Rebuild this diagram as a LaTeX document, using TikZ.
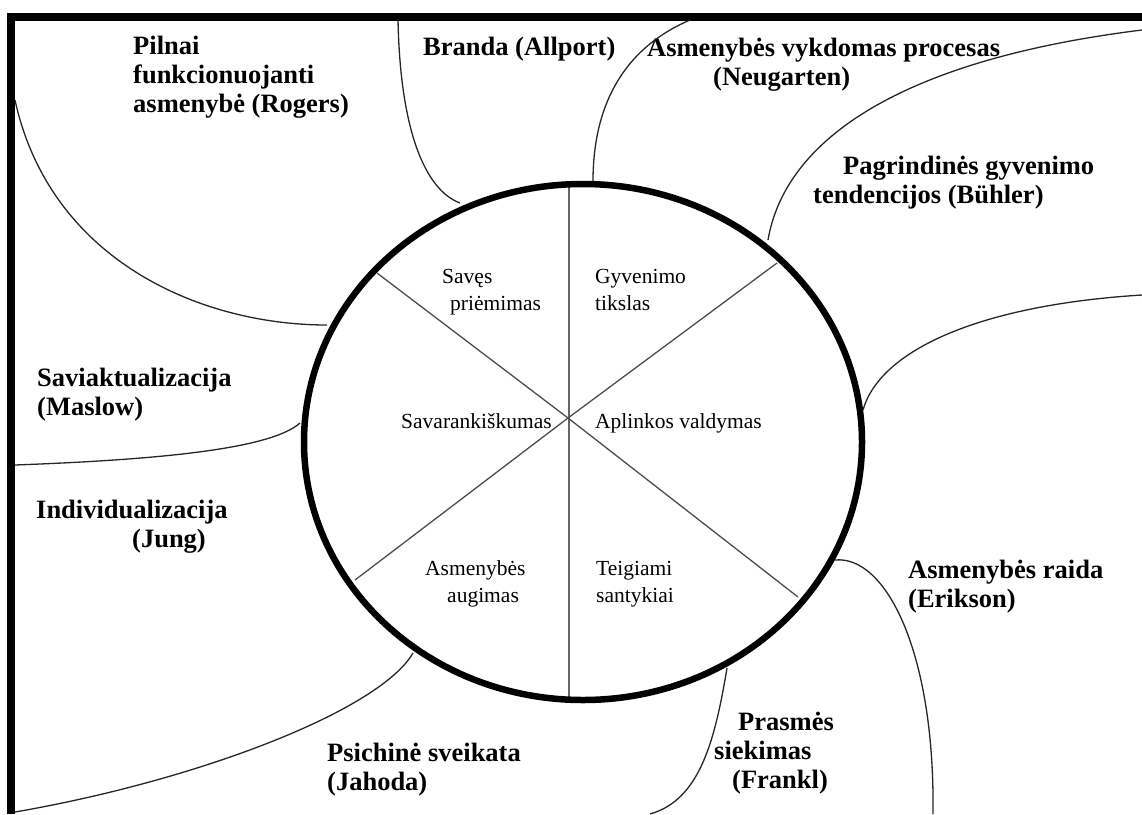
\documentclass[tikz,border=0pt]{standalone}
\usepackage{fontspec}
\setmainfont{Liberation Serif}
\usetikzlibrary{shapes.geometric}
\begin{document}
\begin{tikzpicture}[x=1pt,y=-1pt,
  outtext/.style={font=\bfseries\fontsize{26.5}{29}\selectfont, inner sep=0pt, anchor=base west, align=left},
  ringtext/.style={font=\fontsize{21.5}{27}\selectfont, inner sep=0pt, anchor=base west, align=left},
  link/.style={line width=1.3pt, black!85},
  spoke/.style={line width=1.3pt, black!70},
  axis/.style={line width=2pt, black!60},
  frameline/.style={line width=8pt, line join=miter},
  ring/.style={draw, ellipse, line width=6.5pt, inner sep=0pt, minimum width=558pt, minimum height=516pt}
  ]
\useasboundingbox (0,0) rectangle (1142,814);

% outer frame (top and left edges)
\draw[frameline] (11,814) -- (11,17) -- (1142,17);

% wheel: hub, spokes and rim
\coordinate (hub) at (568,418);
\coordinate (axtop) at (569,183);
\coordinate (axbot) at (569,698);
\coordinate (sUL) at (377,273);
\coordinate (sUR) at (777,263);
\coordinate (sLL) at (355,580);
\coordinate (sLR) at (798,597);
\draw[axis] (axtop) -- (axbot);
\draw[spoke] (hub) -- (sUL);
\draw[spoke] (hub) -- (sUR);
\draw[spoke] (hub) -- (sLL);
\draw[spoke] (hub) -- (sLR);
\node[ring] (wheel) at (583,442) {};

% segment labels (anchored at the baseline of their last line)
\node[ringtext] (seg1) at (442,310) {Savęs\\\hspace*{8pt}priėmimas};
\node[ringtext] (seg2) at (595,310) {Gyvenimo\\tikslas};
\node[ringtext] (seg3) at (401,428) {Savarankiškumas};
\node[ringtext] (seg4) at (595,428) {Aplinkos valdymas};
\node[ringtext] (seg5) at (425,602) {Asmenybės\\\hspace*{22pt}augimas};
\node[ringtext] (seg6) at (596,602) {Teigiami\\santykiai};

% theory labels (anchored at the baseline of their last line)
\node[outtext] (rogers) at (133,112) {Pilnai\\funkcionuojanti\\asmenybė (Rogers)};
\node[outtext] (allport) at (423,55) {Branda (Allport)};
\node[outtext] (neugarten) at (647,85) {Asmenybės vykdomas procesas\\\hspace*{66pt}(Neugarten)};
\node[outtext] (buhler) at (813,203) {\hspace*{30pt}Pagrindinės gyvenimo\\tendencijos (Bühler)};
\node[outtext] (maslow) at (37,415) {Saviaktualizacija\\(Maslow)};
\node[outtext] (jung) at (36,547) {Individualizacija\\\hspace*{96pt}(Jung)};
\node[outtext] (jahoda) at (327,790) {Psichinė sveikata\\(Jahoda)};
\node[outtext] (erikson) at (908,607) {Asmenybės raida\\(Erikson)};
\node[outtext] (frankl) at (714,788) {\hspace*{24pt}Prasmės\\siekimas\\\hspace*{18pt}(Frankl)};

% dividing curves between the theory fields
\coordinate (rogersA) at (15,100);   \coordinate (rogersB) at (327,325);
\coordinate (allportA) at (398,19);  \coordinate (allportB) at (460,203);
\coordinate (neugA) at (690,20);     \coordinate (neugB) at (593,181);
\coordinate (buhlerA) at (768,240);  \coordinate (buhlerB) at (1142,30);
\coordinate (rightA) at (863,410);   \coordinate (rightB) at (1142,295);
\coordinate (maslowA) at (15,465);   \coordinate (maslowB) at (300,423);
\coordinate (jahodaA) at (15,812);   \coordinate (jahodaB) at (413,653);
\coordinate (franklA) at (727,668);  \coordinate (franklB) at (650,814);
\coordinate (eriksonA) at (835,560); \coordinate (eriksonB) at (933,814);

\draw[link] (rogersA) .. controls (50,260) and (200,325) .. (rogersB);
\draw[link] (allportA) .. controls (400,130) and (425,190) .. (allportB);
\draw[link] (neugA) .. controls (620,50) and (593,110) .. (neugB);
\draw[link] (buhlerA) .. controls (785,140) and (900,60) .. (buhlerB);
\draw[link] (rightA) .. controls (880,350) and (980,305) .. (rightB);
\draw[link] (maslowA) .. controls (150,460) and (270,450) .. (maslowB);
\draw[link] (jahodaA) .. controls (200,780) and (380,710) .. (jahodaB);
\draw[link] (franklA) .. controls (715,740) and (700,800) .. (franklB);
\draw[link] (eriksonA) .. controls (885,555) and (935,650) .. (eriksonB);
\end{tikzpicture}
\end{document}
